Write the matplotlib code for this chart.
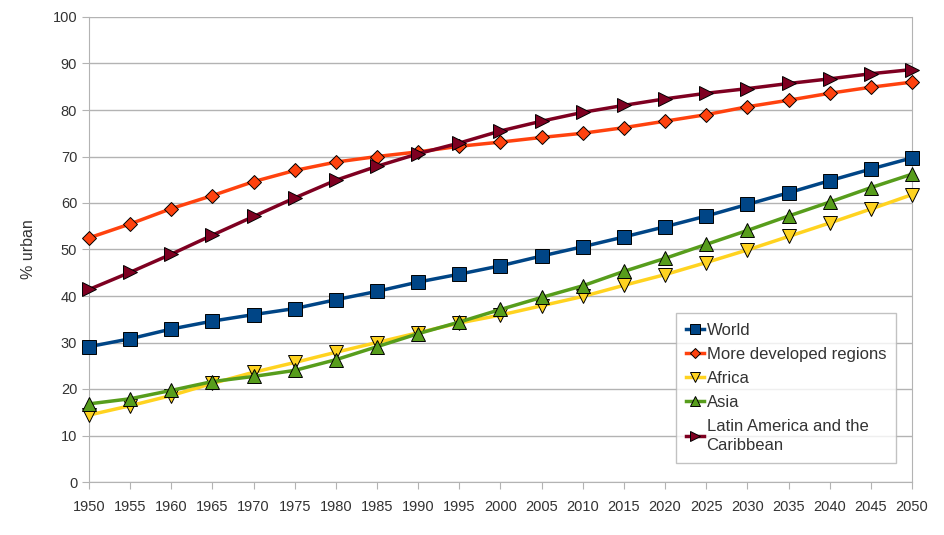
#!/usr/bin/env python3
"""Urban population share by region, 1950-2050."""

import matplotlib
matplotlib.use("Agg")
import matplotlib.pyplot as plt

plt.rcParams["font.family"] = ["Liberation Sans", "DejaVu Sans"]

years = list(range(1950, 2051, 5))

world = [29.1, 30.8, 32.9, 34.6, 36.0, 37.3, 39.2, 41.0, 43.0, 44.7, 46.5,
         48.6, 50.6, 52.7, 54.9, 57.2, 59.7, 62.2, 64.8, 67.3, 69.7]
more_dev = [52.5, 55.5, 58.8, 61.6, 64.6, 67.0, 68.8, 70.0, 71.0, 72.2, 73.1,
            74.1, 75.0, 76.2, 77.6, 79.0, 80.7, 82.1, 83.6, 84.9, 86.0]
africa = [14.4, 16.4, 18.6, 21.2, 23.6, 25.7, 27.9, 30.0, 32.1, 34.2, 35.9,
          37.9, 39.9, 42.3, 44.6, 47.2, 49.9, 52.8, 55.7, 58.7, 61.8]
asia = [16.8, 17.9, 19.7, 21.6, 22.7, 24.0, 26.3, 29.1, 31.9, 34.4, 37.1,
        39.7, 42.2, 45.3, 48.1, 51.1, 54.1, 57.2, 60.2, 63.3, 66.2]
latam = [41.4, 45.1, 49.0, 53.1, 57.1, 61.1, 64.9, 67.9, 70.6, 72.9, 75.5,
         77.6, 79.5, 81.0, 82.4, 83.6, 84.6, 85.7, 86.7, 87.8, 88.7]

series = [
    ("World", world, "#004586", "s"),
    ("More developed regions", more_dev, "#ff420e", "D"),
    ("Africa", africa, "#ffd320", "v"),
    ("Asia", asia, "#579d1c", "^"),
    ("Latin America and the\nCaribbean", latam, "#7e0021", ">"),
]

fig = plt.figure(figsize=(9.45, 5.35), dpi=100)
ax = fig.add_axes([89 / 945, 53 / 535, 823 / 945, 465 / 535])

for label, vals, color, mk in series:
    ms = 9.5 if mk == "s" else (7.5 if mk == "D" else 10)
    ax.plot(years, vals, color=color, linewidth=2.5, marker=mk, markersize=ms,
            markerfacecolor=color, markeredgecolor="black",
            markeredgewidth=0.7, label=label, clip_on=False, zorder=3)

ax.set_xlim(1950, 2050)
ax.set_ylim(0, 100)
ax.set_xticks(years)
ax.set_yticks(range(0, 101, 10))
ax.grid(axis="y", color="#b3b3b3", linewidth=1)
ax.set_axisbelow(True)
for sp in ax.spines.values():
    sp.set_color("#b3b3b3")
ax.spines["top"].set_visible(False)
ax.tick_params(colors="#b3b3b3", labelcolor="#333333", labelsize=10.5,
               length=5, direction="out")
ax.tick_params(axis="x", pad=8)
ax.set_ylabel("% urban", fontsize=11.5, color="#333333", labelpad=12)

leg = ax.legend(loc="lower right", bbox_to_anchor=(0.9806, 0.041), fontsize=12,
                frameon=True, fancybox=False, handlelength=1.1,
                handletextpad=0.15, borderpad=0.6, borderaxespad=0,
                labelspacing=0.55, markerscale=0.7, labelcolor="#333333")
leg.get_frame().set_edgecolor("#b3b3b3")
leg.get_frame().set_linewidth(1)
for t in leg.get_texts():
    t.set_linespacing(1.3)

fig.savefig("out.png", dpi=100)
